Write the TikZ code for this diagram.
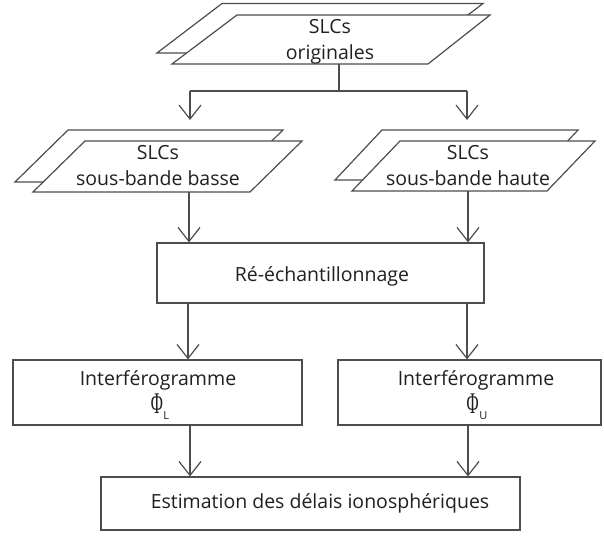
\documentclass[tikz,border=0pt]{standalone}
\usepackage{fontspec}
\setmainfont{Open Sans}
\newfontfamily\phifont{Liberation Serif}
\usetikzlibrary{arrows.meta}
\definecolor{linec}{HTML}{4D4D4D}
\definecolor{textc}{HTML}{231F20}
\begin{document}
\begin{tikzpicture}[x=1pt,y=-1pt,
  para/.style={draw=linec, fill=white, line width=1.2pt, line join=miter},
  boxnode/.style={draw=linec, fill=white, line width=1.2pt, rectangle, inner sep=0pt},
  conn/.style={draw=linec, line width=1.2pt, -{Straight Barb[length=14pt,width=22pt,line width=1.2pt]}},
  plain/.style={draw=linec, line width=1.2pt},
  lbl/.style={text=textc, font=\fontsize{19.5}{26}\selectfont, align=center, inner sep=0pt},
  phil/.style={text=textc, inner sep=0pt}
]
\useasboundingbox (0,0) rectangle (604,536);
\fill[white] (0,0) rectangle (604,536);

% --- top parallelograms
\draw[para] (222,3.5) -- (483,3.5) -- (418,53) -- (157,53) -- cycle;
\draw[para] (237,15) -- (490,15) -- (428,64) -- (172,64) -- cycle;
\node[lbl] (orig) at (330,42) {SLCs\\originales};
\coordinate (origB) at (339,64);
\coordinate (split) at (339,91);
\coordinate (splitL) at (190,91);
\coordinate (splitR) at (467,91);
\coordinate (basseT) at (190,120);
\coordinate (hauteT) at (467,120);

% --- middle left parallelograms
\draw[para] (68,130) -- (283,130) -- (230,182) -- (15,182) -- cycle;
\draw[para] (85,141) -- (302,141) -- (250,192) -- (33,192) -- cycle;
\node[lbl] (basse) at (158,166) {SLCs\\sous-bande basse};
\coordinate (basseB) at (189,192);

% --- middle right parallelograms
\draw[para] (382,130) -- (578,130) -- (531,180) -- (335,180) -- cycle;
\draw[para] (400,141) -- (595,141) -- (547,191) -- (352,191) -- cycle;
\node[lbl] (haute) at (468,166) {SLCs\\sous-bande haute};
\coordinate (hauteB) at (468,191);

% --- boxes
\node[boxnode, minimum width=327pt, minimum height=60pt] (resamp) at (320.5,273) {};
\node[lbl] (resampT) at (322,276) {Ré-échantillonnage};

\newcommand{\myphi}[1]{{\phifont\fontsize{30}{30}\selectfont\scalebox{0.55}[1]{Φ}}\hspace{0.5pt}\raisebox{-6pt}{\fontsize{11}{11}\selectfont #1}}

\node[boxnode, minimum width=289pt, minimum height=65pt] (ifgL) at (157.5,392.5) {};
\node[lbl] (ifgLT) at (158,380) {Interférogramme};
\node[phil] (phiL) at (160,407) {\myphi{L}};

\node[boxnode, minimum width=263pt, minimum height=65pt] (ifgU) at (469.5,392.5) {};
\node[lbl] (ifgUT) at (476,380) {Interférogramme};
\node[phil] (phiU) at (477,407) {\myphi{U}};

\node[boxnode, minimum width=419pt, minimum height=53pt] (iono) at (310.5,503.5) {};
\node[lbl] (ionoT) at (320,503) {Estimation des délais ionosphériques};

% --- connectors
\draw[plain] (origB) -- (split);
\draw[plain] (splitL) -- (splitR);
\draw[conn] (splitL) -- (basseT);
\draw[conn] (splitR) -- (hauteT);
\draw[conn] (basseB) -- (basseB |- resamp.north);
\draw[conn] (hauteB) -- (hauteB |- resamp.north);
\draw[conn] (resamp.south -| 188,0) -- (188,0 |- ifgL.north);
\draw[conn] (resamp.south -| 467,0) -- (467,0 |- ifgU.north);
\draw[conn] (ifgL.south -| 190,0) -- (190,0 |- iono.north);
\draw[conn] (ifgU.south -| 468,0) -- (468,0 |- iono.north);
\end{tikzpicture}
\end{document}
